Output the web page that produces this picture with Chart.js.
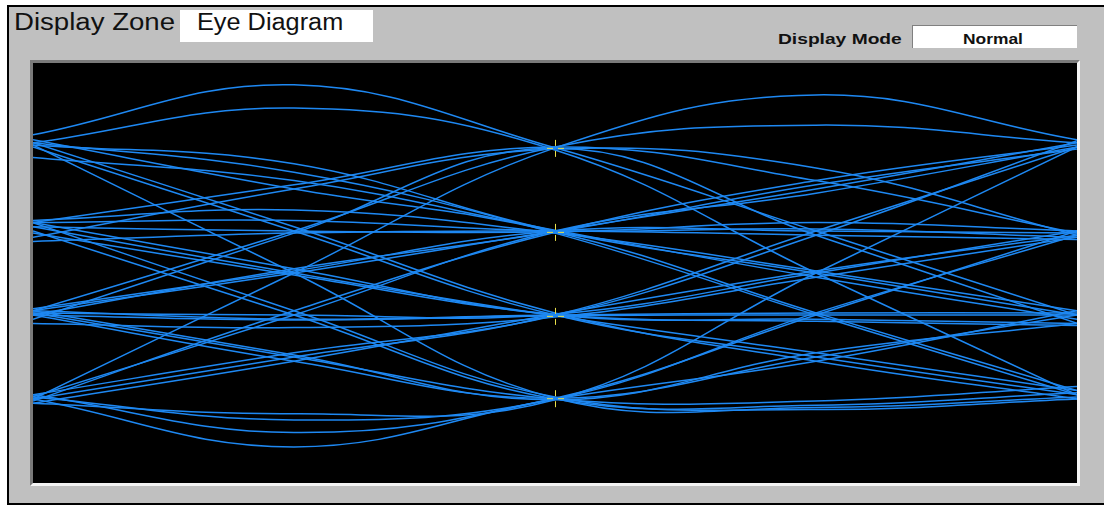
<!DOCTYPE html>
<html>
<head>
<meta charset="utf-8">
<script src="https://cdn.jsdelivr.net/npm/chart.js@4/dist/chart.umd.min.js"></script>
<style>
  html, body { margin: 0; padding: 0; }
  body { width: 1104px; height: 508px; overflow: hidden; position: relative; background: #ffffff;
         font-family: "Liberation Sans", Arial, sans-serif; }
  .abs { position: absolute; }
  #frame { left: 7px; top: 5px; width: 1097px; height: 496px; background: #c0c0c0;
           border-top: 2px solid #000; border-left: 2px solid #000; border-bottom: 2px solid #000; }
  #panel { left: 30px; top: 60px; width: 1044px; height: 420px; background: #000;
           border-top: 3px solid #7a7a7a; border-left: 3px solid #7a7a7a;
           border-right: 3px solid #f4f4f4; border-bottom: 3px solid #f4f4f4; }
  #zoneBox { left: 180px; top: 10px; width: 193px; height: 32px; background: #fff; }
  #modeBox { left: 912px; top: 25px; width: 164px; height: 22px; background: #fff;
             border-top: 1px solid #808080; border-left: 1px solid #808080; }
  .txt { white-space: nowrap; color: #111; transform-origin: 0 0; }
  .big { font-size: 23px; line-height: 23px; }
  .small { font-size: 15px; line-height: 15px; font-weight: bold; }
  #chartWrap { left: 33px; top: 63px; width: 1044px; height: 420px; }
</style>
</head>
<body>
<div id="frame" class="abs"></div>
<div id="panel" class="abs"></div>
<div id="zoneBox" class="abs"></div>
<div id="modeBox" class="abs"></div>
<div id="zoneLabel" class="abs txt big" style="left:14px; top:11px; transform:scaleX(1.2);"></div>
<div id="zoneValue" class="abs txt big" style="left:197px; top:11px; transform:scaleX(1.1);"></div>
<div id="modeLabel" class="abs txt small" style="left:778px; top:31px; transform:scaleX(1.28);"></div>
<div id="modeValue" class="abs txt small" style="left:963px; top:31px; transform:scaleX(1.16);"></div>
<div id="chartWrap" class="abs"><canvas id="eye" width="1044" height="420"></canvas></div>

<script>
// ---- texts ----
const zoneLabelText = 'Display Zone';
const zoneValueText = 'Eye Diagram';
const modeLabelText = 'Display Mode';
const modeValueText = 'Normal';

// ---- sample instants (in symbol periods) ----
const sampleTimes = [0, 0.5, 1, 1.5, 2];

// ---- traces, grouped by the level they cross at the centre instant ----
const tracesThroughTop = [
  [-3.00, 0.00, 2.98, 4.24, 3.17],
  [-0.90, 1.00, 3.00, 3.52, 3.10],
  [3.29, 4.48, 2.98, 1.00, -1.00],
  [3.10, 3.93, 2.93, 0.00, -2.90],
  [1.20, 2.10, 3.00, 2.20, 0.95],
  [0.85, 2.00, 2.95, 2.50, 0.90],
  [-1.10, 0.95, 2.97, 0.90, -1.20]
];
const tracesThroughUpper = [
  [3.05, 2.60, 1.00, 0.00, -1.00],
  [3.10, 2.40, 0.95, -1.00, -2.90],
  [2.75, 2.20, 1.02, -0.10, -1.10],
  [3.17, 2.00, 0.98, -0.95, -2.80],
  [1.20, 1.25, 1.00, 1.05, 0.85],
  [1.10, 1.00, 0.98, 1.20, 1.00],
  [0.75, 0.95, 1.00, 0.90, 0.80],
  [1.25, 1.50, 0.95, 0.05, -0.90],
  [-0.90, 0.00, 1.00, 2.00, 3.10],
  [-1.00, 0.10, 0.98, 2.10, 2.95],
  [-0.85, 0.05, 1.00, 1.00, 0.95],
  [-2.95, -1.00, 1.00, 1.90, 3.00],
  [-3.05, -0.90, 0.97, 2.20, 3.05]
];
const tracesThroughLower = [
  [3.00, 1.00, -1.00, -2.00, -2.90],
  [3.10, 1.10, -0.95, -2.10, -3.00],
  [1.10, 0.00, -1.02, -1.90, -2.80],
  [1.20, 0.10, -1.00, -1.10, -1.20],
  [0.95, -0.05, -0.98, -1.15, -1.25],
  [-0.90, -1.10, -1.00, -0.95, -0.95],
  [-1.00, -1.12, -1.02, -1.00, -1.00],
  [-0.95, -1.00, -0.98, 0.00, 1.00],
  [-1.20, -1.30, -1.05, -0.10, 0.85],
  [-3.00, -2.00, -1.00, 1.00, 3.00],
  [-2.90, -1.90, -1.02, 0.90, 3.15],
  [-3.10, -2.10, -0.98, 0.05, 0.90]
];
const tracesThroughBottom = [
  [3.05, 0.00, -2.98, -3.20, -2.95],
  [1.00, -1.00, -3.00, -3.15, -2.85],
  [1.20, -0.90, -2.95, -3.25, -3.00],
  [-0.95, -2.00, -3.00, -3.05, -2.70],
  [-1.00, -2.10, -2.98, -2.00, -1.00],
  [-0.90, -1.95, -3.02, -1.90, -1.20],
  [-3.00, -4.14, -3.00, -2.10, -0.90],
  [-2.90, -3.80, -2.98, -1.00, 1.00],
  [-2.95, -3.50, -3.00, -0.95, 0.90],
  [-3.10, -3.35, -3.02, 0.00, 3.00]
];

// ---- sampling-point markers ----
const markerTimes = [1, 1, 1, 1];
const markerLevels = [2.98, 0.98, -1.02, -2.98];

// ---- axis ranges ----
const timeRange = [0, 2];
const levelRange = [-5, 5];

document.getElementById('zoneLabel').textContent = zoneLabelText;
document.getElementById('zoneValue').textContent = zoneValueText;
document.getElementById('modeLabel').textContent = modeLabelText;
document.getElementById('modeValue').textContent = modeValueText;

// crosshair marker image (four short ticks round an open centre)
const cross = document.createElement('canvas');
cross.width = 20; cross.height = 20;
(function () {
  const c = cross.getContext('2d');
  c.fillStyle = '#e9e04a';
  c.fillRect(10, 2, 1, 6);
  c.fillRect(10, 13, 1, 6);
  c.fillRect(2, 10, 6, 1);
  c.fillRect(13, 10, 6, 1);
})();

const allTraces = [].concat(tracesThroughTop, tracesThroughUpper, tracesThroughLower, tracesThroughBottom);
const lineColor = 'rgb(30,136,242)';

const datasets = [{
  type: 'scatter',
  data: markerTimes.map((t, i) => ({ x: t, y: markerLevels[i] })),
  pointStyle: cross,
  pointRadius: 10,
  order: -1
}];
allTraces.forEach(tr => {
  datasets.push({
    type: 'line',
    data: sampleTimes.map((t, i) => ({ x: t, y: tr[i] })),
    borderColor: lineColor,
    borderWidth: 1.5,
    pointRadius: 0,
    tension: 0.4,
    fill: false
  });
});

new Chart(document.getElementById('eye'), {
  type: 'line',
  data: { datasets },
  options: {
    responsive: false,
    animation: false,
    devicePixelRatio: 1,
    layout: { padding: 0, autoPadding: false },
    plugins: { legend: { display: false }, tooltip: { enabled: false } },
    scales: {
      x: { type: 'linear', min: timeRange[0], max: timeRange[1], display: false },
      y: { type: 'linear', min: levelRange[0], max: levelRange[1], display: false }
    }
  }
});
</script>
</body>
</html>
